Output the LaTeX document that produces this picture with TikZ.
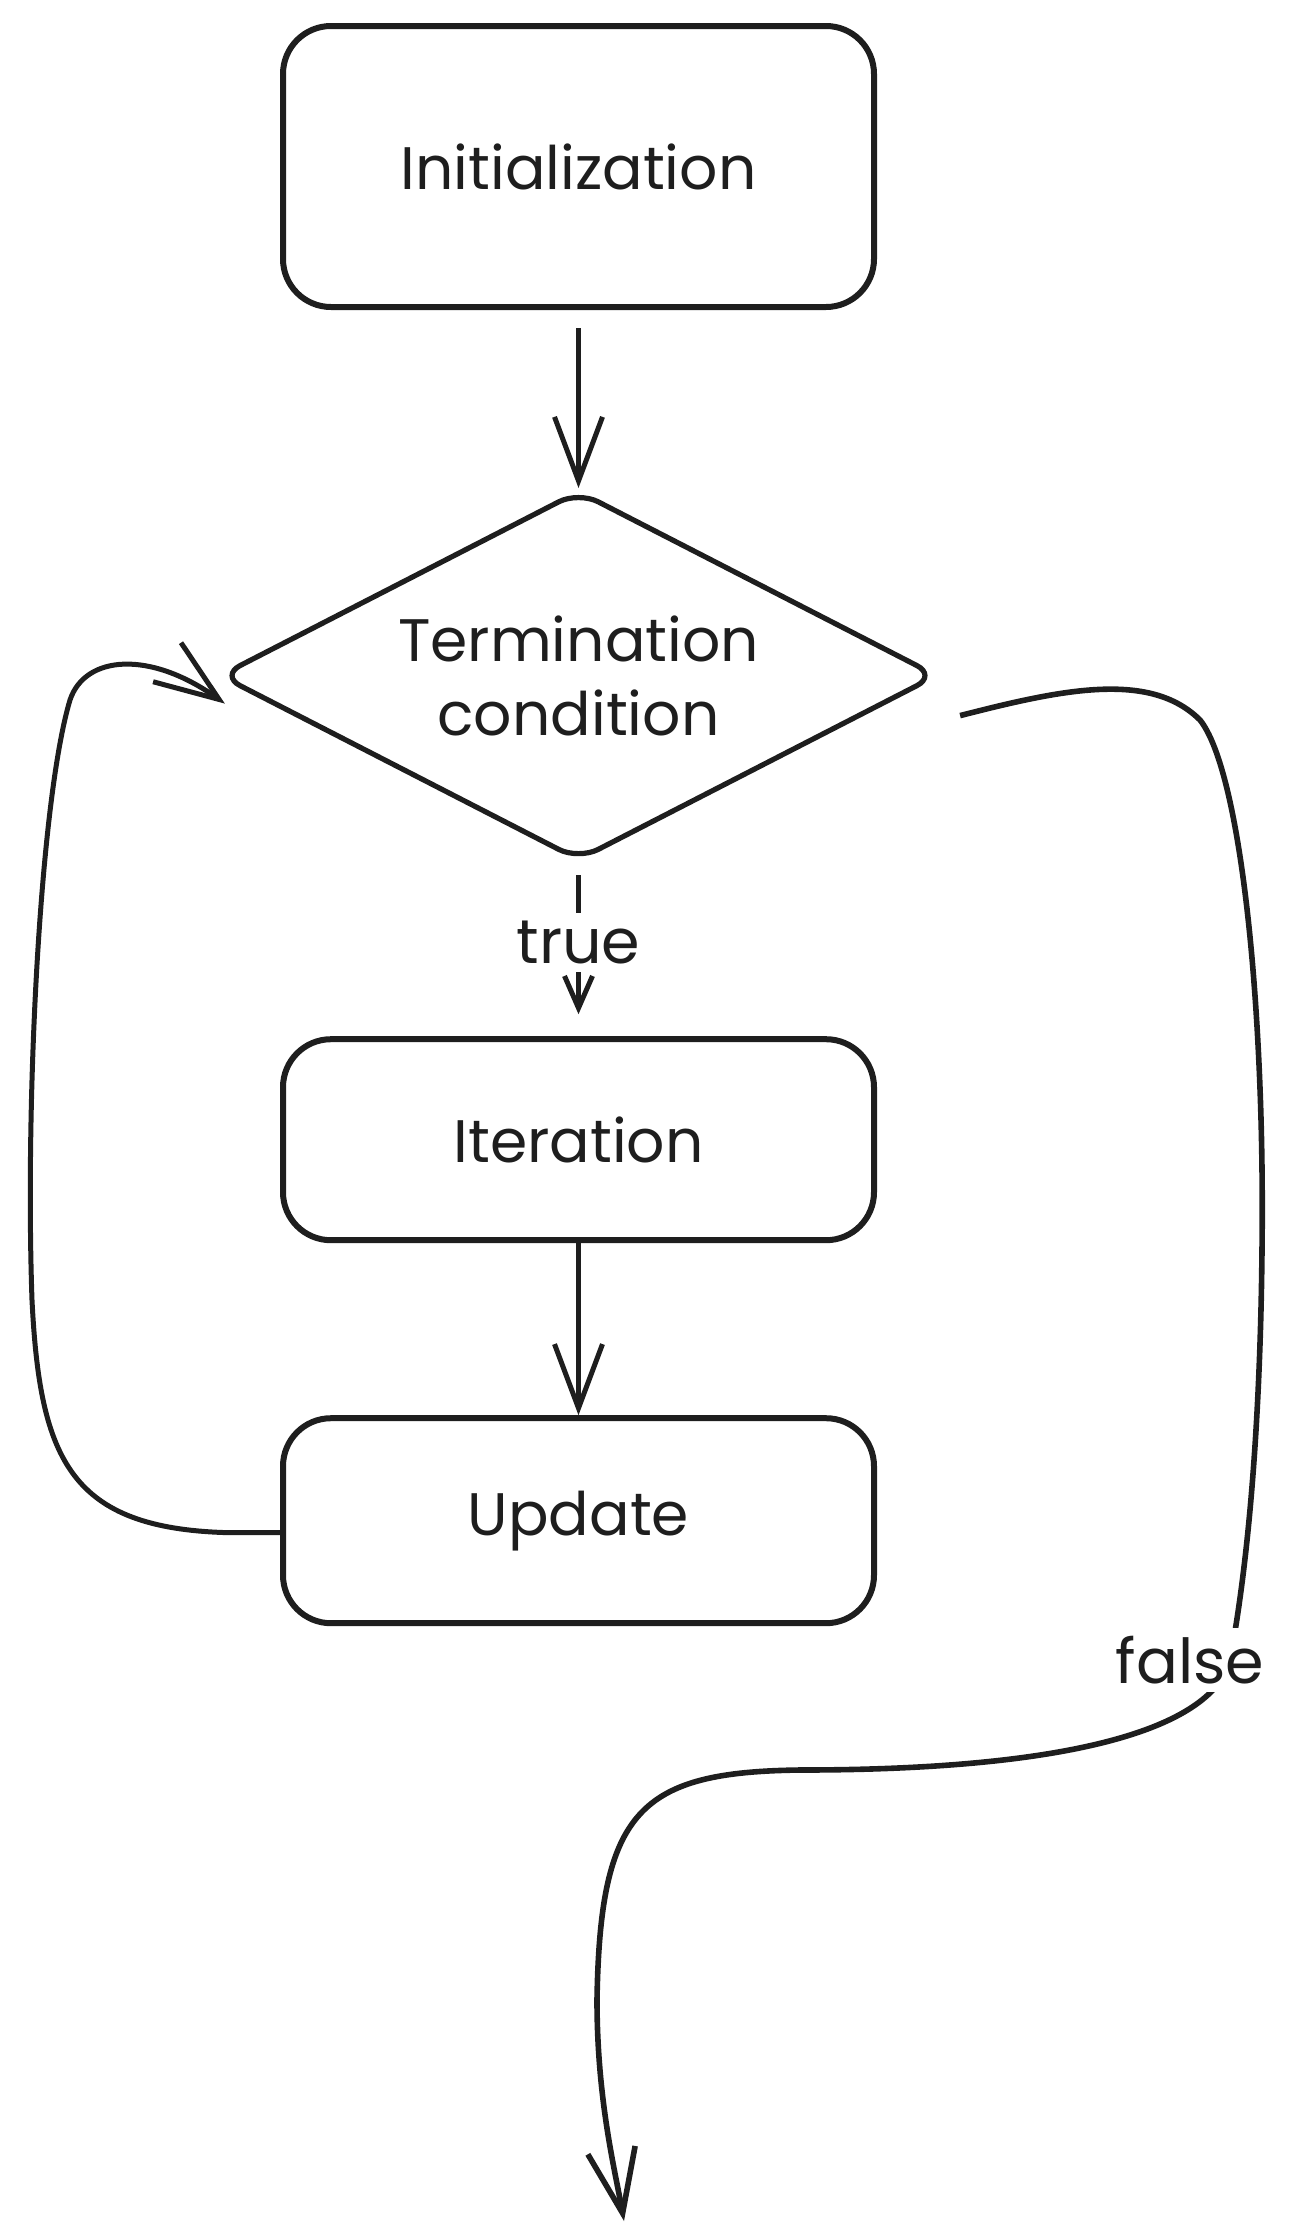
\documentclass[tikz,border=0pt]{standalone}
\usepackage{fontspec}
\setmainfont{Poppins}
\usetikzlibrary{shapes, positioning, arrows.meta}
\definecolor{ink}{HTML}{1E1E1E}

\begin{document}
\begin{tikzpicture}[x=0.5pt, y=-0.5pt,
    block/.style={rectangle,
      draw=ink,
      line width=3pt,
      rounded corners=24pt,
      minimum width=295.5pt,
      align=center,
      text=ink,
      font=\fontsize{30}{37}\selectfont},
    decision/.style={diamond,
      draw=ink,
      line width=2.6pt,
      rounded corners=11pt,
      shape aspect=1.94,
      minimum width=359pt,
      minimum height=185pt,
      inner sep=0pt,
      align=center,
      text=ink,
      font=\fontsize{30}{37}\selectfont},
    flow/.style={draw=ink,
      line width=2.5pt,
      -{Straight Barb[length=32pt, width=24pt]}},
    shortflow/.style={flow,
      -{Straight Barb[length=16pt, width=14pt]}},
    edgetext/.style={fill=white,
      inner sep=4pt,
      text=ink,
      font=\fontsize{31}{37}\selectfont}]

  \useasboundingbox (0,0) rectangle (1290,2239);

  % STEPS

  \node[block, minimum height=140.5pt] (init) at (578.5,166.5) {Initialization};

  \node[decision, below=89pt of init] (cond) {Termination\\condition};

  \node[block,
    minimum height=100.5pt,
    below=86.5pt of cond] (iter) {Iteration};

  \node[block,
    minimum height=102.5pt,
    below=86pt of iter] (upd) {Update};

  \coordinate (exit) at (624,2221);

  % ARROWS

  \draw[flow, shorten <=9pt] (init.south) -- (cond.north);

  \draw[shortflow, shorten <=6pt, shorten >=11pt] (cond.south)
    -- node[edgetext, pos=0.46] (truelbl) {true} (iter.north);

  \draw[flow] (iter.south) -- (upd.north);

  % back to the condition
  \draw[flow] ([yshift=-6pt]upd.west) -- ++(-50,0)
    .. controls (70,1529) and (40,1460) .. (32,1300)
    .. controls (25,1100) and (40,800) .. (70,700)
    .. controls (85,655) and (150,650) .. ([shift={(4pt,-14pt)}]cond.west);

  % leave the loop
  \draw[flow, line width=2.8pt] ([shift={(10pt,-20pt)}]cond.east)
    .. controls (1060,690) and (1150,670) .. (1200,720)
    .. controls (1240,770) and (1265,1000) .. (1262,1250)
    .. controls (1260,1450) and (1245,1580) .. (1230,1660)
    node[edgetext, xshift=-20pt] (falselbl) {false}
    .. controls (1215,1720) and (1100,1770) .. (800,1770)
    .. controls (640,1772) and (600,1810) .. (597,2000)
    .. controls (597,2100) and (615,2170) .. (exit);

\end{tikzpicture}
\end{document}
